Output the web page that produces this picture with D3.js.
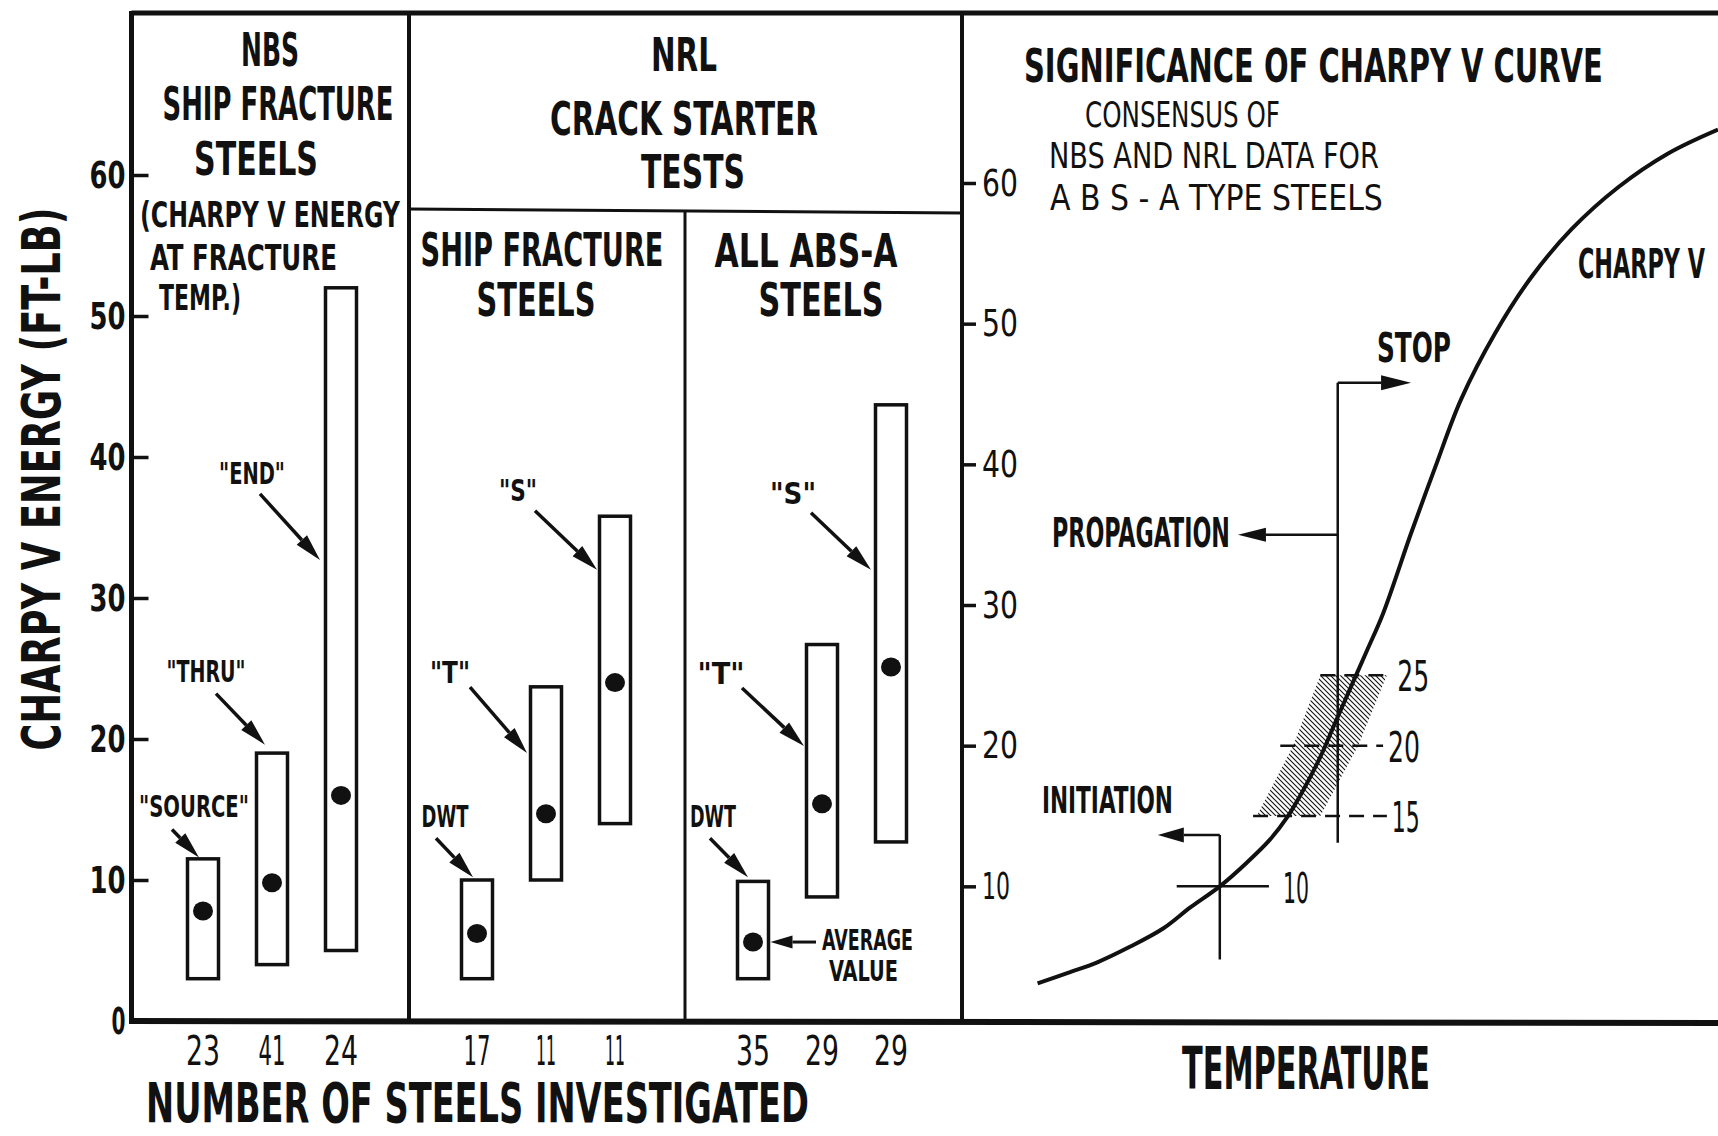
<!DOCTYPE html>
<html>
<head>
<meta charset="utf-8">
<script src="https://cdn.jsdelivr.net/npm/d3@7"></script>
<style>
  body { margin: 0; background: #fff; }
  svg { display: block; }
  text {
    font-family: "DejaVu Sans Condensed", "Liberation Sans Narrow", "DejaVu Sans", sans-serif;
    font-stretch: condensed;
    font-weight: bold;
    fill: #111;
  }
</style>
</head>
<body>
<svg id="chart" width="1718" height="1136"></svg>
<script>
// values
const testNames = ['SOURCE', 'THRU', 'END', 'DWT', 'T', 'S', 'DWT', 'T', 'S'];
const panelOf = [0, 0, 0, 1, 1, 1, 2, 2, 2];
const steelCounts = [23, 41, 24, 17, 11, 11, 35, 29, 29];
const energyLow = [3, 4, 5, 3, 10, 14, 3, 8.8, 12.7];
const energyHigh = [11.5, 19, 52, 10, 23.7, 35.8, 9.9, 26.7, 43.7];
const energyAvg = [7.8, 9.8, 16, 6.2, 14.7, 24, 5.6, 15.4, 25.1];
const arrowLabels = ['"SOURCE"', '"THRU"', '"END"', 'DWT', '"T"', '"S"', 'DWT', '"T"', '"S"'];
const arrowTipEnergy = [11.6, 19.6, 32.7, 10.2, 19, 32, 10.2, 19.5, 32];

const leftTicks = [0, 10, 20, 30, 40, 50, 60];
const rightTicks = [10, 20, 30, 40, 50, 60];

// Charpy V curve (temperature in arbitrary units 0-100)
const curveTemp = [10.0, 14.3, 17.9, 22.2, 26.6, 30.2, 34.1, 37.7, 40.7, 43.0, 45.1, 47.4, 49.1, 51.3, 53.6, 55.7, 59.4, 62.6, 66.0, 70.5, 75.3, 80.6, 86.8, 93.4, 100];
const curveEnergy = [3.1, 3.9, 4.6, 5.7, 7.0, 8.5, 10.0, 11.7, 13.3, 14.9, 16.8, 19.2, 21.3, 24.0, 26.8, 29.4, 35.1, 39.8, 44.6, 49.3, 53.3, 56.7, 59.7, 62.1, 63.8];
const markerEnergy = [15, 20, 25];
const markerFrom = [38.5, 42.1, 47.4];
const markerTo = [56.2, 55.7, 56.9];
const hatchTemp = [47.4, 56.2, 52.4, 47.4, 39.0, 43.8];
const hatchEnergy = [25, 25, 20, 15, 15, 20];
const initiationTemp = 34.1, initiationEnergy = 10;
const stopTemp = 49.7;

const ink = '#111';
const svg = d3.select('#chart');

const y = d3.scaleLinear().domain([0, 60]).range([1021, 175]);
// the right-hand panel was drawn on a slightly lower baseline
const yR = d3.scaleLinear().domain([0, 60]).range([1027, 183]);
const t = d3.scaleLinear().domain([0, 100]).range([962, 1718]);
const xs = [
  d3.scalePoint().domain(d3.range(3)).range([203, 341]),
  d3.scalePoint().domain(d3.range(3)).range([477, 615]),
  d3.scalePoint().domain(d3.range(3)).range([753, 891])
];
const boxW = 31;

// squeeze a text horizontally so it spans the given width
function fit(sel, width) {
  sel.each(function (d, i) {
    const w = typeof width === 'function' ? width(d, i) : width;
    const len = this.getComputedTextLength();
    const x = +this.getAttribute('x') || 0;
    const prev = this.getAttribute('transform') || '';
    this.setAttribute('x', 0);
    this.setAttribute('transform', `${prev} translate(${x},0) scale(${w / len},1)`);
  });
  return sel;
}

function label(g, str, x, yy, size, width, anchor = 'middle', weight = 'bold') {
  const s = g.append('text')
    .attr('x', x).attr('y', yy)
    .attr('font-size', size)
    .attr('text-anchor', anchor)
    .style('font-weight', weight)
    .text(str);
  return fit(s, width);
}

function arrow(g, x1, y1, x2, y2, len = 24, w = 13, sw = 3.5) {
  const a = Math.atan2(y2 - y1, x2 - x1);
  const bx = x2 - len * Math.cos(a), by = y2 - len * Math.sin(a);
  g.append('line')
    .attr('x1', x1).attr('y1', y1).attr('x2', bx).attr('y2', by)
    .attr('stroke', ink).attr('stroke-width', sw);
  const px = -Math.sin(a) * w / 2, py = Math.cos(a) * w / 2;
  g.append('path')
    .attr('d', `M${x2},${y2}L${bx + px},${by + py}L${bx - px},${by - py}Z`)
    .attr('fill', ink);
}

const defs = svg.append('defs');
defs.append('pattern')
  .attr('id', 'hatch')
  .attr('patternUnits', 'userSpaceOnUse')
  .attr('width', 5).attr('height', 5)
  .append('path')
  .attr('d', 'M-1,-1L6,6M-1,4L1,6M4,-1L6,1')
  .attr('stroke', ink).attr('stroke-width', 1.1);

// ---- frame ----
const frame = svg.append('g').attr('stroke', ink).attr('fill', 'none');
frame.append('line').attr('x1', 131.5).attr('x2', 1718).attr('y1', 13).attr('y2', 13).attr('stroke-width', 5);
frame.append('line').attr('x1', 131.5).attr('x2', 1718).attr('y1', 1021).attr('y2', 1023).attr('stroke-width', 6);
frame.append('line').attr('x1', 131.5).attr('x2', 131.5).attr('y1', 11).attr('y2', 1024).attr('stroke-width', 5);
frame.append('line').attr('x1', 409).attr('x2', 409).attr('y1', 13).attr('y2', 1021).attr('stroke-width', 4);
frame.append('line').attr('x1', 962).attr('x2', 962).attr('y1', 13).attr('y2', 1021).attr('stroke-width', 4);
frame.append('line').attr('x1', 409).attr('x2', 962).attr('y1', 209).attr('y2', 213).attr('stroke-width', 3);
frame.append('line').attr('x1', 685).attr('x2', 685).attr('y1', 211).attr('y2', 1021).attr('stroke-width', 3);

// ---- axes ----
const leftAxis = svg.append('g')
  .attr('transform', 'translate(131.5,0)')
  .call(d3.axisLeft(y).tickValues(leftTicks).tickSizeInner(-17).tickSizeOuter(0).tickPadding(6));
leftAxis.select('.domain').remove();
leftAxis.selectAll('line').attr('stroke', ink).attr('stroke-width', 3.5);
fit(leftAxis.selectAll('text').attr('font-size', 38), d => (d === 0 ? 14 : 36));

const rightAxis = svg.append('g')
  .attr('transform', 'translate(962,0)')
  .call(d3.axisRight(yR).tickValues(rightTicks).tickSizeInner(14).tickSizeOuter(0).tickPadding(6));
rightAxis.select('.domain').remove();
rightAxis.selectAll('line').attr('stroke', ink).attr('stroke-width', 3.5);
fit(rightAxis.selectAll('text').attr('font-size', 38).style('font-weight', 'normal'), d => (d === 10 ? 28 : 36));

// ---- titles ----
const titles = svg.append('g');
label(titles, 'NBS', 270, 66, 46, 58);
label(titles, 'SHIP FRACTURE', 278, 120, 46, 231);
label(titles, 'STEELS', 256, 175, 46, 124);
label(titles, '(CHARPY V ENERGY', 140, 227, 36, 260, 'start');
label(titles, 'AT FRACTURE', 150, 270, 36, 187, 'start');
label(titles, 'TEMP.)', 159, 310, 36, 82, 'start');

label(titles, 'NRL', 684, 71, 46, 66);
label(titles, 'CRACK STARTER', 684, 135, 46, 268);
label(titles, 'TESTS', 693, 188, 46, 104);
label(titles, 'SHIP FRACTURE', 542, 266, 46, 243);
label(titles, 'STEELS', 536, 316, 46, 119);
label(titles, 'ALL ABS-A', 806, 267, 46, 183);
label(titles, 'STEELS', 821, 316, 46, 125);

label(titles, 'SIGNIFICANCE OF CHARPY V  CURVE', 1024, 82, 46, 579, 'start');
label(titles, 'CONSENSUS OF', 1085, 127, 35, 195, 'start', 'normal');
label(titles, 'NBS  AND  NRL DATA  FOR', 1049, 168, 35, 330, 'start', 'normal');
label(titles, 'A B S - A   TYPE   STEELS', 1050, 210, 35, 333, 'start', 'normal');

label(titles, 'NUMBER OF  STEELS  INVESTIGATED', 146, 1122, 56, 663, 'start');
label(titles, 'TEMPERATURE', 1306, 1089, 58, 248);
fit(titles.append('text')
  .attr('transform', 'translate(60,479) rotate(-90)')
  .attr('font-size', 54)
  .attr('text-anchor', 'middle')
  .text('CHARPY V ENERGY (FT-LB)'), 543);

// ---- range boxes ----
const bars = d3.range(testNames.length).map(i => ({
  name: testNames[i],
  panel: panelOf[i],
  slot: i % 3,
  n: steelCounts[i],
  lo: energyLow[i],
  hi: energyHigh[i],
  avg: energyAvg[i]
}));
const cx = d => xs[d.panel](d.slot);

const boxes = svg.append('g');
boxes.selectAll('rect')
  .data(bars)
  .join('rect')
  .attr('x', d => cx(d) - boxW / 2)
  .attr('y', d => y(d.hi))
  .attr('width', boxW)
  .attr('height', d => y(d.lo) - y(d.hi))
  .attr('fill', '#fff')
  .attr('stroke', ink)
  .attr('stroke-width', 3.5);
boxes.selectAll('ellipse')
  .data(bars)
  .join('ellipse')
  .attr('cx', d => cx(d))
  .attr('cy', d => y(d.avg))
  .attr('rx', 10).attr('ry', 9.5)
  .attr('fill', ink);

fit(svg.append('g').selectAll('text')
  .data(bars)
  .join('text')
  .attr('x', d => cx(d))
  .attr('y', 1065)
  .attr('font-size', 40)
  .attr('text-anchor', 'middle')
  .style('font-weight', 'normal')
  .text(d => d.n), d => 34 - 7 * (String(d.n).split('1').length - 1));

// ---- annotation arrows (layout offsets in px) ----
const annoLayout = [
  { tip: 11.5, tx: -27, ty: -28, lx: 22, ly: -12, w: 110 },
  { tip: 8.5, tx: -49, ty: -51, lx: -10, ly: -12, w: 79 },
  { tip: -5.5, tx: -60, ty: -66, lx: -8, ly: -10, w: 66 },
  { tip: 11.5, tx: -37, ty: -39, lx: 9, ly: -11, w: 47 },
  { tip: -3.5, tx: -57, ty: -66, lx: -20, ly: -4, w: 40 },
  { tip: -2.5, tx: -62, ty: -59, lx: -17, ly: -10, w: 38 },
  { tip: 10.5, tx: -38, ty: -39, lx: 3, ly: -11, w: 46 },
  { tip: -2.5, tx: -62, ty: -58, lx: -21, ly: -4, w: 47 },
  { tip: -4.5, tx: -60, ty: -57, lx: -18, ly: -9, w: 46 }
];
const anno = svg.append('g');
bars.forEach((d, i) => {
  const L = annoLayout[i];
  const x2 = cx(d) - boxW / 2 + L.tip;
  const y2 = y(arrowTipEnergy[i]);
  const x1 = x2 + L.tx, y1 = y2 + L.ty;
  arrow(anno, x1, y1, x2, y2, 27, 14, 3.5);
  label(anno, arrowLabels[i], x1 + L.lx, y1 + L.ly, 30, L.w);
});
// average value pointer on the ABS-A DWT box
const avgBar = bars[6];
arrow(anno, cx(avgBar) + 63, y(avgBar.avg), cx(avgBar) + boxW / 2 + 2, y(avgBar.avg), 22, 13, 3);
label(anno, 'AVERAGE', 822, 950, 29, 91, 'start');
label(anno, 'VALUE', 829, 981, 29, 69, 'start');

// ---- significance panel ----
const sig = svg.append('g');
sig.append('path')
  .datum(d3.range(hatchTemp.length))
  .attr('d', d3.line().x(i => t(hatchTemp[i])).y(i => yR(hatchEnergy[i])).curve(d3.curveLinearClosed))
  .attr('fill', 'url(#hatch)');

markerEnergy.forEach((v, i) => {
  sig.append('line')
    .attr('x1', t(markerFrom[i])).attr('x2', t(markerTo[i]))
    .attr('y1', yR(v)).attr('y2', yR(v))
    .attr('stroke', ink).attr('stroke-width', 2.5)
    .attr('stroke-dasharray', '15,9');
  label(sig, String(v), t(markerTo[i]) + 5, yR(v) + 16, 42, v === 15 ? 28 : 32, 'start', 'normal');
});

sig.append('path')
  .datum(d3.range(curveTemp.length))
  .attr('d', d3.line().x(i => t(curveTemp[i])).y(i => yR(curveEnergy[i])).curve(d3.curveCatmullRom))
  .attr('fill', 'none')
  .attr('stroke', ink)
  .attr('stroke-width', 4);

// initiation crosshair at 10 ft-lb
sig.append('line')
  .attr('x1', t(28.4)).attr('x2', t(40.6))
  .attr('y1', yR(initiationEnergy)).attr('y2', yR(initiationEnergy))
  .attr('stroke', ink).attr('stroke-width', 2.5);
sig.append('line')
  .attr('x1', t(initiationTemp)).attr('x2', t(initiationTemp))
  .attr('y1', yR(4.8)).attr('y2', yR(13.65))
  .attr('stroke', ink).attr('stroke-width', 2.5);
arrow(sig, t(initiationTemp), yR(13.65), t(25.9), yR(13.65), 26, 15, 2.5);
label(sig, '10', 1283, yR(initiationEnergy) + 17, 42, 26, 'start', 'normal');
label(sig, 'INITIATION', 1042, 813, 38, 131, 'start');

// stop / propagation line
sig.append('line')
  .attr('x1', t(stopTemp)).attr('x2', t(stopTemp))
  .attr('y1', yR(13.1)).attr('y2', yR(45.8))
  .attr('stroke', ink).attr('stroke-width', 2.5);
arrow(sig, t(stopTemp), yR(45.8), t(59.4), yR(45.8), 30, 15, 2.5);
arrow(sig, t(stopTemp), yR(35), t(36.5), yR(35), 28, 14, 2.5);
label(sig, 'STOP', 1377, 362, 40, 74, 'start');
label(sig, 'PROPAGATION', 1052, 547, 40, 178, 'start');
label(sig, 'CHARPY V', 1578, 278, 40, 127, 'start');
</script>
</body>
</html>
